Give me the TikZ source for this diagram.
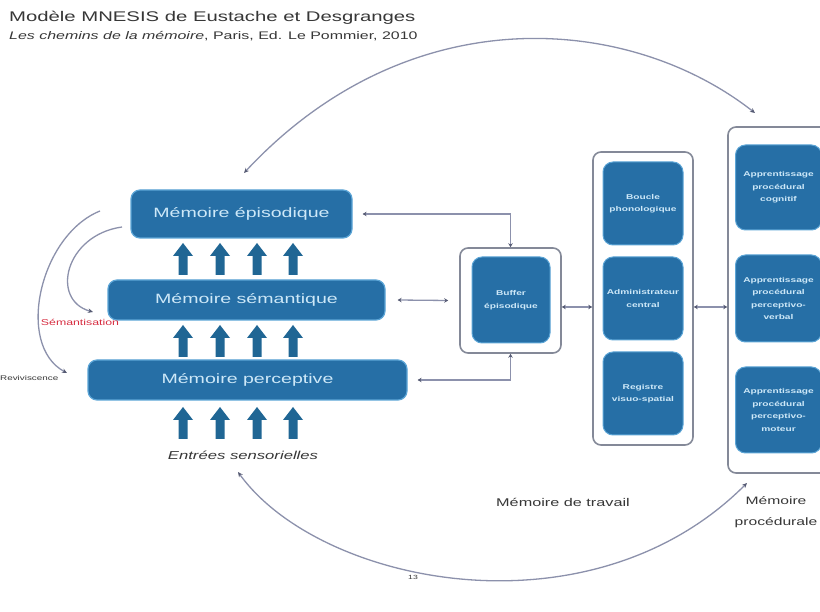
\documentclass[tikz,border=0pt]{standalone}
\usepackage{fontspec}
\setmainfont{Liberation Sans}[FakeStretch=1.45]
\usetikzlibrary{arrows.meta}
\definecolor{boxblue}{RGB}{38,111,166}
\definecolor{boxedge}{RGB}{92,165,214}
\definecolor{arrblue}{RGB}{32,102,148}
\definecolor{boxtext}{RGB}{205,232,248}
\definecolor{framegray}{RGB}{132,137,152}
\definecolor{conncol}{RGB}{140,145,172}
\definecolor{tipcol}{RGB}{85,90,115}
\definecolor{semred}{RGB}{215,45,65}
\definecolor{txtgray}{RGB}{55,55,55}
\tikzset{
  bigbox/.style={draw=boxedge, line width=1.2pt, fill=boxblue, rounded corners=9pt,
    text=boxtext, font=\fontsize{13.5}{16}\selectfont, inner sep=0pt},
  smallbox/.style={draw=boxedge, line width=1pt, fill=boxblue, rounded corners=10pt,
    text=boxtext, font=\bfseries\fontsize{7}{12.5}\selectfont, align=center, inner sep=0pt},
  container/.style={draw=framegray, line width=1.6pt, fill=white, rounded corners=8pt, inner sep=0pt},
  connector/.style={draw=conncol, line width=1.3pt,
    {Stealth[length=4pt,width=4.5pt,color=tipcol]}-{Stealth[length=4pt,width=4.5pt,color=tipcol]}},
  curvearrow/.style={draw=conncol, line width=1.3pt, -{Stealth[length=5pt,width=4.5pt,color=tipcol]}},
  curveboth/.style={draw=conncol, line width=1.3pt,
    {Stealth[length=5pt,width=4.5pt,color=tipcol]}-{Stealth[length=5pt,width=4.5pt,color=tipcol]}},
  plaintext/.style={text=txtgray, inner sep=0pt},
  blockup/.pic={\fill[arrblue] (-4.5,0) -- (-4.5,-19) -- (-10,-19) -- (0,-32) -- (10,-19) -- (4.5,-19) -- (4.5,0) -- cycle;}
}
\begin{document}
\begin{tikzpicture}[x=1pt,y=-1pt]
\clip (0,0) rectangle (820,612);
\fill[white] (0,0) rectangle (820,612);

% titles
\node[plaintext, anchor=base west, font=\fontsize{14}{16}\selectfont] (title) at (9,22) {Modèle MNESIS de Eustache et Desgranges};
\node[plaintext, anchor=base west, font=\fontsize{11}{13}\selectfont] (subtitle) at (9,40) {\textit{Les chemins de la mémoire}, Paris, Ed. Le Pommier, 2010};

% long-term memory systems
\node[bigbox, minimum width=221pt, minimum height=48pt] (epi) at (241.5,214) {Mémoire épisodique};
\node[bigbox, minimum width=277pt, minimum height=40pt] (sem) at (246.5,300) {Mémoire sémantique};
\node[bigbox, minimum width=319pt, minimum height=40pt] (perc) at (247.5,380) {Mémoire perceptive};

\foreach \xx in {183,220,257,293} {
  \pic at (\xx,275) {blockup};
  \pic at (\xx,357) {blockup};
  \pic at (\xx,439) {blockup};
}
\node[plaintext, font=\itshape\fontsize{11.5}{13}\selectfont] (entrees) at (243,455) {Entrées sensorielles};

% buffer
\node[container, minimum width=101pt, minimum height=105pt] (bufout) at (510.5,300.5) {};
\node[smallbox, minimum width=78pt, minimum height=86pt] (buf) at (511,300) {Buffer\\épisodique};

% working memory
\node[container, minimum width=100pt, minimum height=293pt] (wm) at (643,298.5) {};
\node[smallbox, minimum width=80pt, minimum height=83pt] (boucle) at (643,203.5) {Boucle\\phonologique};
\node[smallbox, minimum width=80pt, minimum height=83pt] (admin) at (643,298.5) {Administrateur\\central};
\node[smallbox, minimum width=80pt, minimum height=83pt] (registre) at (643,393.5) {Registre\\visuo-spatial};

% procedural memory
\node[container, minimum width=102pt, minimum height=346pt] (proc) at (779,300) {};
\node[smallbox, minimum width=86pt, minimum height=85pt] (cog) at (778.5,187.5) {Apprentissage\\procédural\\cognitif};
\node[smallbox, minimum width=86pt, minimum height=87pt] (pverb) at (778.5,298.5) {Apprentissage\\procédural\\perceptivo-\\verbal};
\node[smallbox, minimum width=86pt, minimum height=86pt] (pmot) at (778.5,410) {Apprentissage\\procédural\\perceptivo-\\moteur};

\node[plaintext, font=\fontsize{11.2}{13}\selectfont] (wmlabel) at (563,502) {Mémoire de travail};
\node[plaintext, font=\fontsize{10.8}{21}\selectfont, align=center, anchor=north] (proclabel) at (776,496) {Mémoire\\procédurale};

% connectors
\coordinate (linky) at (600,307);
\draw[connector] ([xshift=10pt]epi.east) -| (bufout.north);
\draw[connector] ([xshift=12pt]sem.east) -- ([xshift=-11pt]bufout.west);
\draw[connector] ([xshift=10pt]perc.east) -| (bufout.south);
\draw[connector] (bufout.east |- linky) -- (wm.west |- linky);
\draw[connector] (wm.east |- linky) -- (proc.west |- linky);

% big arcs
\coordinate (topA) at (244,173);
\coordinate (topB) at (755,113);
\draw[curveboth] (topA) .. controls (410,-5) and (630,15) .. (topB);
\coordinate (botA) at (238,472);
\coordinate (botB) at (747,483);
\draw[curveboth] (botA) .. controls (320,585) and (590,640) .. (botB);

% left arcs
\coordinate (revA) at (100,211);
\coordinate (revB) at (67,373);
\draw[curvearrow] (revA) .. controls (40,235) and (15,345) .. (revB);
\coordinate (semA) at (122,227);
\coordinate (semB) at (93,312);
\draw[curvearrow] (semA) .. controls (65,235) and (50,300) .. (semB);

\node[font=\fontsize{8.5}{10}\selectfont, text=semred, inner sep=0pt] (semlabel) at (80,322) {Sémantisation};
\node[plaintext, font=\fontsize{6.8}{8}\selectfont, anchor=west] (revlabel) at (0,378) {Reviviscence};

\node[plaintext, font=\fontsize{6}{7}\selectfont] (pagenum) at (413,577) {13};
\end{tikzpicture}
\end{document}
